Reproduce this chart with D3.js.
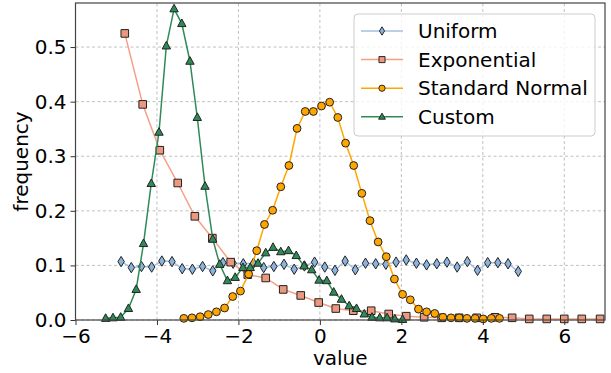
<!DOCTYPE html>
<html lang="en">
<head>
<meta charset="UTF-8">
<title>Distributions</title>
<style>
  body { margin: 0; background: #fff; }
  svg { display: block; font-family: "DejaVu Sans", sans-serif; }
  .grid line { stroke: #b0b0b0; stroke-dasharray: 3,2.5; stroke-width: 0.8; }
</style>
</head>
<body>
<script src="https://cdn.jsdelivr.net/npm/d3@7"></script>
<script>
// data
var uniformX = [-4.88, -4.63, -4.38, -4.13, -3.88, -3.63, -3.38, -3.13, -2.88, -2.63,
    -2.38, -2.13, -1.88, -1.63, -1.38, -1.13, -0.88, -0.63, -0.38, -0.13,
    0.12, 0.37, 0.62, 0.87, 1.12, 1.37, 1.62, 1.87, 2.12, 2.37,
    2.62, 2.87, 3.12, 3.37, 3.62, 3.87, 4.12, 4.37, 4.62, 4.87];
var uniformY = [0.107, 0.096, 0.098, 0.097, 0.108, 0.107, 0.094, 0.093, 0.098, 0.090,
    0.105, 0.104, 0.103, 0.104, 0.096, 0.098, 0.102, 0.093, 0.099, 0.106,
    0.097, 0.091, 0.108, 0.092, 0.104, 0.103, 0.102, 0.106, 0.110, 0.104,
    0.101, 0.103, 0.106, 0.097, 0.107, 0.091, 0.105, 0.105, 0.103, 0.089];

var expX = [-4.79, -4.35, -3.93, -3.49, -3.07, -2.64, -2.19, -1.77, -1.33, -0.90,
    -0.47, -0.03, 0.39, 0.82, 1.26, 1.69, 2.12, 2.56, 2.99, 3.42,
    3.85, 4.30, 4.72, 5.14, 5.57, 6.00, 6.43, 6.88];
var expY = [0.525, 0.395, 0.311, 0.251, 0.190, 0.150, 0.106, 0.083, 0.077, 0.056,
    0.045, 0.032, 0.021, 0.017, 0.017, 0.011, 0.007, 0.005, 0.004, 0.004,
    0.004, 0.005, 0.004, 0.002, 0.002, 0.002, 0.002, 0.002];

var normX = [-3.34, -3.14, -2.94, -2.74, -2.54, -2.34, -2.14, -1.95, -1.75, -1.55,
    -1.36, -1.16, -0.96, -0.76, -0.56, -0.36, -0.16, 0.04, 0.24, 0.44,
    0.63, 0.83, 1.03, 1.23, 1.43, 1.63, 1.83, 2.03, 2.22, 2.42,
    2.62, 2.82, 3.02, 3.22, 3.42, 3.61, 3.81, 4.01, 4.21, 4.41];
var normY = [0.003, 0.004, 0.006, 0.010, 0.015, 0.022, 0.043, 0.053, 0.084, 0.127,
    0.175, 0.201, 0.244, 0.283, 0.351, 0.382, 0.382, 0.392, 0.399, 0.371,
    0.324, 0.283, 0.232, 0.182, 0.143, 0.116, 0.075, 0.047, 0.037, 0.020,
    0.015, 0.012, 0.005, 0.004, 0.004, 0.003, 0.003, 0.002, 0.003, 0.003];

var customX = [-5.26, -5.08, -4.89, -4.70, -4.51, -4.33, -4.14, -3.95, -3.77, -3.58,
    -3.39, -3.19, -3.01, -2.82, -2.63, -2.46, -2.27, -2.08, -1.89, -1.71,
    -1.52, -1.33, -1.15, -0.96, -0.77, -0.58, -0.39, -0.20, -0.02, 0.17,
    0.34, 0.53, 0.72, 0.90, 1.09, 1.28, 1.47, 1.65, 1.84, 2.03];
var customY = [0.003, 0.004, 0.005, 0.021, 0.056, 0.140, 0.250, 0.344, 0.502, 0.570,
    0.543, 0.474, 0.371, 0.245, 0.148, 0.102, 0.072, 0.078, 0.096, 0.096,
    0.104, 0.123, 0.133, 0.125, 0.127, 0.118, 0.099, 0.092, 0.073, 0.072,
    0.051, 0.038, 0.026, 0.021, 0.011, 0.005, 0.004, 0.004, 0.002, 0.001];

var xTicks = [-6, -4, -2, 0, 2, 4, 6];
var yTicks = [0.0, 0.1, 0.2, 0.3, 0.4, 0.5];

var series = [
    { name: "Uniform", xs: uniformX, ys: uniformY, line: "#a3c1e3", fill: "#8cb3db", marker: "thindiamond" },
    { name: "Exponential", xs: expX, ys: expY, line: "#f4a086", fill: "#ec987e", marker: "square" },
    { name: "Standard Normal", xs: normX, ys: normY, line: "#ffa500", fill: "#ffa500", marker: "circle" },
    { name: "Custom", xs: customX, ys: customY, line: "#2e8b57", fill: "#2e8b57", marker: "triangle" }
];

var width = 611, height = 373;
var margin = { top: 3, right: 6, bottom: 53, left: 75.5 };

var svg = d3.select("body").append("svg")
    .attr("width", width)
    .attr("height", height);

var x = d3.scaleLinear().domain([-6, 7]).range([margin.left, width - margin.right]);
var y = d3.scaleLinear().domain([0, 0.5807]).range([height - margin.bottom, margin.top]);

// grid
var grid = svg.append("g").attr("class", "grid");
grid.selectAll("line.gx").data(xTicks).enter().append("line")
    .attr("x1", d => x(d)).attr("x2", d => x(d))
    .attr("y1", y.range()[0]).attr("y2", y.range()[1]);
grid.selectAll("line.gy").data(yTicks).enter().append("line")
    .attr("x1", x.range()[0]).attr("x2", x.range()[1])
    .attr("y1", d => y(d)).attr("y2", d => y(d));

// markers
function markerPath(kind) {
    if (kind === "thindiamond") return "M0,-5.2L3.2,0L0,5.2L-3.2,0Z";
    if (kind === "square") return "M-3.8,-3.8H3.8V3.8H-3.8Z";
    if (kind === "triangle") return "M0,-4.6L4.2,3L-4.2,3Z";
    return d3.symbol(d3.symbolCircle, 48)();
}

var line = d3.line().x(d => x(d[0])).y(d => y(d[1]));

var plot = svg.append("g");
series.forEach(function (s) {
    var pts = s.xs.map((v, i) => [v, s.ys[i]]);
    plot.append("path")
        .datum(pts)
        .attr("fill", "none")
        .attr("stroke", s.line)
        .attr("stroke-width", 1.5)
        .attr("d", line);
    plot.selectAll(null).data(pts).enter().append("path")
        .attr("transform", d => "translate(" + x(d[0]) + "," + y(d[1]) + ")")
        .attr("d", markerPath(s.marker))
        .attr("fill", s.fill)
        .attr("stroke", "#222")
        .attr("stroke-width", 1);
});

// clip off whatever sticks out over the frame: white strips
svg.append("rect").attr("x", width - margin.right + 0.5).attr("y", 0)
    .attr("width", margin.right).attr("height", height).attr("fill", "#fff");

// axes
var xAxis = d3.axisBottom(x).tickValues(xTicks).tickSize(5).tickPadding(4)
    .tickFormat(d => d3.format("d")(d).replace("-", "\u2212"));
var yAxis = d3.axisLeft(y).tickValues(yTicks).tickSize(5).tickPadding(4)
    .tickFormat(d3.format(".1f"));

svg.append("g")
    .attr("transform", "translate(0," + y.range()[0] + ")")
    .call(xAxis)
    .call(g => g.select(".domain").remove())
    .selectAll("text").attr("font-size", 20).attr("font-family", "DejaVu Sans").attr("fill", "#000");
svg.append("g")
    .attr("transform", "translate(" + x.range()[0] + ",0)")
    .call(yAxis)
    .call(g => g.select(".domain").remove())
    .selectAll("text").attr("font-size", 20).attr("font-family", "DejaVu Sans").attr("fill", "#000");
svg.selectAll(".tick line").attr("stroke", "#333").attr("stroke-width", 1);

// frame
svg.append("rect")
    .attr("x", x.range()[0]).attr("y", y.range()[1])
    .attr("width", x.range()[1] - x.range()[0])
    .attr("height", y.range()[0] - y.range()[1])
    .attr("fill", "none").attr("stroke", "#444").attr("stroke-width", 1.2);

// axis labels
svg.append("text")
    .attr("x", (x.range()[0] + x.range()[1]) / 2).attr("y", 365)
    .attr("text-anchor", "middle").attr("font-size", 20).text("value");
svg.append("text")
    .attr("transform", "translate(28," + (y.range()[0] + y.range()[1]) / 2 + ") rotate(-90)")
    .attr("text-anchor", "middle").attr("font-size", 20).text("frequency");

// legend
var lg = svg.append("g").attr("transform", "translate(354,14)");
lg.append("rect")
    .attr("width", 241).attr("height", 122).attr("rx", 4)
    .attr("fill", "#fff").attr("fill-opacity", 0.8)
    .attr("stroke", "#ccc").attr("stroke-width", 1);
series.forEach(function (s, i) {
    var cy = 17 + i * 28.6;
    lg.append("line").attr("x1", 7).attr("x2", 49).attr("y1", cy).attr("y2", cy)
        .attr("stroke", s.line).attr("stroke-width", 1.5);
    lg.append("path").attr("transform", "translate(28," + cy + ") scale(0.8)")
        .attr("d", markerPath(s.marker))
        .attr("fill", s.fill).attr("stroke", "#222").attr("stroke-width", 1.2);
    lg.append("text").attr("x", 64).attr("y", cy + 7).attr("font-size", 20).text(s.name);
});
</script>
</body>
</html>
